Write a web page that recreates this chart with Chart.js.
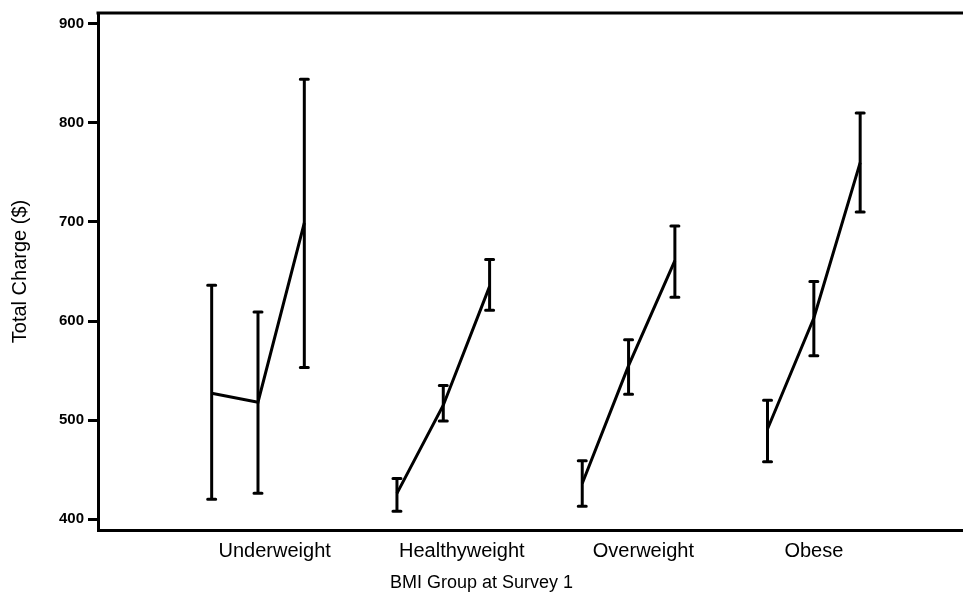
<!DOCTYPE html>
<html>
<head>
<meta charset="utf-8">
<script src="https://cdn.jsdelivr.net/npm/chart.js@4/dist/chart.umd.min.js"></script>
<style>
  html, body { margin: 0; padding: 0; background: #fff; }
  #grafico { display: block; }
</style>
</head>
<body>
<canvas id="grafico" width="963" height="613"></canvas>
<script>
// dados
const grupos = ['Underweight', 'Healthyweight', 'Overweight', 'Obese'];
const deslocSurvey = [-0.25, 0, 0.25];
const mediaCharge = [
  [527, 518, 699],
  [426, 515, 635],
  [436, 555, 661],
  [491, 603, 760]
];
const limiteInf = [
  [420, 426, 553],
  [408, 499, 611],
  [413, 526, 624],
  [458, 565, 710]
];
const limiteSup = [
  [636, 609, 844],
  [441, 535, 662],
  [459, 581, 696],
  [520, 640, 810]
];
const yTicks = [400, 500, 600, 700, 800, 900];

// posicao dos rotulos das categorias (unidades do eixo x)
const posRotulos = [1.09, 2.1, 3.08, 4.0];

const datasets = grupos.map((g, gi) => ({
  label: g,
  data: deslocSurvey.map((d, si) => ({
    x: gi + 1 + d,
    y: mediaCharge[gi][si],
    lo: limiteInf[gi][si],
    hi: limiteSup[gi][si]
  })),
  showLine: true,
  borderColor: '#000',
  borderWidth: 3,
  pointRadius: 0,
  fill: false,
  tension: 0
}));

// barras de erro
const barrasErro = {
  id: 'barrasErro',
  afterDatasetsDraw(chart) {
    const ctx = chart.ctx;
    const y = chart.scales.y;
    ctx.save();
    ctx.strokeStyle = '#000';
    ctx.lineWidth = 3;
    chart.data.datasets.forEach((ds, i) => {
      const meta = chart.getDatasetMeta(i);
      meta.data.forEach((pt, j) => {
        const p = ds.data[j];
        const yLo = y.getPixelForValue(p.lo);
        const yHi = y.getPixelForValue(p.hi);
        ctx.lineCap = 'butt';
        ctx.beginPath();
        ctx.moveTo(pt.x, yLo);
        ctx.lineTo(pt.x, yHi);
        ctx.stroke();
        ctx.lineCap = 'round';
        ctx.beginPath();
        ctx.moveTo(pt.x - 4, yLo); ctx.lineTo(pt.x + 4, yLo);
        ctx.moveTo(pt.x - 4, yHi); ctx.lineTo(pt.x + 4, yHi);
        ctx.stroke();
      });
    });
    ctx.restore();
  }
};

// linha superior da moldura
const bordaTopo = {
  id: 'bordaTopo',
  afterDraw(chart) {
    const { ctx, chartArea } = chart;
    ctx.save();
    ctx.strokeStyle = '#000';
    ctx.lineWidth = 3;
    ctx.beginPath();
    ctx.moveTo(chartArea.left - 1.5, chartArea.top);
    ctx.lineTo(chart.width, chartArea.top);
    ctx.stroke();
    ctx.restore();
  }
};

const fonte = "'Liberation Sans', Arial, sans-serif";

new Chart(document.getElementById('grafico'), {
  type: 'scatter',
  data: { datasets },
  plugins: [barrasErro, bordaTopo],
  options: {
    responsive: false,
    animation: false,
    devicePixelRatio: 1,
    layout: { padding: { top: 10, right: 0, left: 0, bottom: 0 } },
    plugins: {
      legend: { display: false },
      tooltip: { enabled: false },
      title: {
        display: true,
        position: 'bottom',
        text: 'BMI Group at Survey 1',
        color: '#000',
        font: { family: fonte, size: 18, weight: 'normal' },
        padding: { top: 0, bottom: 19 }
      }
    },
    scales: {
      x: {
        type: 'linear',
        min: 0.1365,
        max: 4.805,
        afterFit(scale) { scale.height = 42.4; },
        afterBuildTicks(axis) { axis.ticks = posRotulos.map(v => ({ value: v })); },
        grid: { drawOnChartArea: false, drawTicks: false },
        border: { display: true, color: '#000', width: 3 },
        ticks: {
          autoSkip: false,
          maxRotation: 0,
          padding: 9,
          color: '#000',
          font: { family: fonte, size: 20 },
          callback: (v, i) => grupos[i]
        }
      },
      y: {
        min: 389,
        max: 911,
        afterFit(scale) { scale.width = 98; },
        afterBuildTicks(axis) { axis.ticks = yTicks.map(v => ({ value: v })); },
        grid: { drawOnChartArea: false, drawTicks: true, tickLength: 10, tickWidth: 3, tickColor: '#000' },
        border: { display: true, color: '#000', width: 3 },
        ticks: {
          padding: 4,
          color: '#000',
          font: { family: fonte, size: 15, weight: 'bold' }
        },
        title: {
          display: true,
          text: 'Total Charge ($)',
          color: '#000',
          font: { family: fonte, size: 20 },
          padding: { top: 8, bottom: 0 }
        }
      }
    }
  }
});
</script>
</body>
</html>
